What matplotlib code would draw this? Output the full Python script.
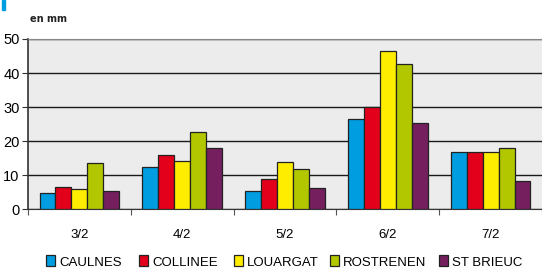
import numpy as np
import matplotlib.pyplot as plt
from matplotlib.patches import Rectangle

dates = ["3/2", "4/2", "5/2", "6/2", "7/2"]
stations = ["CAULNES", "COLLINEE", "LOUARGAT", "ROSTRENEN", "ST BRIEUC"]
caulnes = [4.9, 12.4, 5.5, 26.6, 16.9]
collinee = [6.5, 16.0, 9.0, 30.1, 16.9]
louargat = [5.9, 14.1, 14.0, 46.6, 16.9]
rostrenen = [13.5, 22.7, 11.9, 42.8, 17.9]
st_brieuc = [5.5, 17.9, 6.2, 25.2, 8.2]
couleurs = ["#009ee0", "#e2001a", "#ffed00", "#b2c700", "#761f5f"]

series = [caulnes, collinee, louargat, rostrenen, st_brieuc]

plt.rcParams["font.family"] = ["Liberation Sans", "DejaVu Sans"]

fig = plt.figure(figsize=(5.42, 2.68), dpi=100)
ax = fig.add_axes([28 / 542, (268 - 209.3) / 268, 1 - 28 / 542, 170.3 / 268])
ax.set_facecolor("#ebeceb")

x = np.arange(len(dates))
largeur = 0.155
handles = []
for i, (vals, c) in enumerate(zip(series, couleurs)):
    b = ax.bar(x + (i - 2) * largeur, vals, largeur, color=c,
               edgecolor="#222222", linewidth=0.9, zorder=3, label=stations[i])
    handles.append(b)

ax.set_xlim(-0.5, len(dates) - 0.5)
ax.set_ylim(0, 50)
ax.set_yticks([0, 10, 20, 30, 40, 50])
ax.yaxis.grid(True, color="#1a1a1a", linewidth=1.0, zorder=1)
ax.set_axisbelow(True)
ax.spines["top"].set_color("#888888")
ax.spines["right"].set_visible(False)
ax.spines["left"].set_color("#333333")
ax.spines["bottom"].set_color("#333333")
ax.spines["left"].set_linewidth(1.2)

# ticks aux limites des catégories
ax.set_xticks(np.arange(len(dates) + 1) - 0.5)
ax.set_xticklabels([])
ax.set_xticks(x, minor=True)
ax.set_xticklabels(dates, minor=True, fontsize=9.5)
ax.tick_params(axis="x", which="minor", length=0, pad=14)
ax.tick_params(axis="x", which="major", length=4, color="#555555", direction="out")
ax.tick_params(axis="y", length=4, color="#333333", labelsize=10.5, pad=2)

fig.text(30 / 542, 1 - 19 / 268, "en mm", fontsize=7, fontweight="bold",
         color="#222222", va="center", family="DejaVu Sans")
fig.patches.append(Rectangle((2 / 542, 1 - 10 / 268), 3 / 542, 10 / 268,
                             transform=fig.transFigure, color="#009ee0"))

# une légende par station, placée comme dans l'original
pos_legende = [46, 139, 234, 330, 439]
for h, px in zip(handles, pos_legende):
    leg = fig.legend(handles=[h], loc="center left", bbox_to_anchor=(px / 542, 1 - 262 / 268),
                     frameon=False, fontsize=9.5, handlelength=0.7, handleheight=0.9,
                     handletextpad=0.3, borderaxespad=0, borderpad=0)

fig.savefig("out.png", dpi=100)
